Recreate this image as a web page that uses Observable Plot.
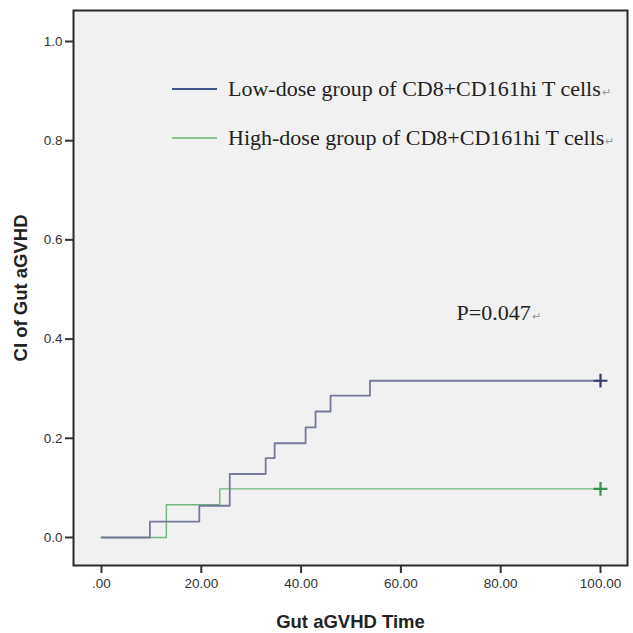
<!DOCTYPE html>
<html>
<head>
<meta charset="utf-8">
<script src="https://cdn.jsdelivr.net/npm/d3@7"></script>
<script src="https://cdn.jsdelivr.net/npm/@observablehq/plot@0.6"></script>
<style>
  html, body { margin: 0; padding: 0; background: #fff; }
</style>
</head>
<body>
<div id="chart"></div>
<script>
// ---- data ----
const groups = ["Low-dose group of CD8+CD161hi T cells", "High-dose group of CD8+CD161hi T cells"];
const lowTime = [0, 9.7, 19.6, 25.7, 32.9, 34.7, 40.9, 42.9, 45.9, 53.8, 100];
const lowCI   = [0, 0.032, 0.064, 0.128, 0.16, 0.19, 0.222, 0.254, 0.286, 0.316, 0.316];
const highTime = [0, 13, 23.7, 100];
const highCI   = [0, 0.066, 0.098, 0.098];
const censorTime = [100, 100];
const censorCI = [0.316, 0.098];
const xTicks = [0, 20, 40, 60, 80, 100];
const yTicks = [0, 0.2, 0.4, 0.6, 0.8, 1.0];
const pText = "P=0.047";

const lowData = lowTime.map((t, i) => ({t, ci: lowCI[i]}));
const highData = highTime.map((t, i) => ({t, ci: highCI[i]}));
const censor = censorTime.map((t, i) => ({t, ci: censorCI[i], g: i}));

const lineColors = ["#767a9c", "#72b87e"];
const plusColors = ["#363c6c", "#3d8f52"];
const legendColors = ["#3c5486", "#8cc28a"];

const plot = Plot.plot({
  width: 633,
  height: 633,
  marginLeft: 73,
  marginRight: 6,
  marginTop: 10,
  marginBottom: 68,
  style: {fontFamily: "Liberation Sans, Arial, sans-serif", background: "#fff", color: "#333"},
  x: {domain: [-5.61, 105.41], axis: null},
  y: {domain: [-0.0565, 1.0625], axis: null},
  marks: [
    Plot.frame({fill: "#f1f1f1", stroke: null}),
    Plot.axisX({ticks: xTicks, tickSize: 8, tickPadding: 5, fontSize: 13.5, label: null,
      tickFormat: d => d === 0 ? ".00" : d.toFixed(2), stroke: "#333", strokeWidth: 2, fill: "#333"}),
    Plot.axisY({ticks: yTicks, tickSize: 8, tickPadding: 3, fontSize: 13.5, label: null,
      tickFormat: d => d.toFixed(1), stroke: "#333", strokeWidth: 2, fill: "#333"}),
    Plot.line(highData, {x: "t", y: "ci", curve: "step-after", stroke: lineColors[1], strokeWidth: 1.4}),
    Plot.line(lowData, {x: "t", y: "ci", curve: "step-after", stroke: lineColors[0], strokeWidth: 1.8}),
    Plot.dot(censor, {x: "t", y: "ci", symbol: "plus", r: 4.5, strokeWidth: 2.2,
      stroke: d => plusColors[d.g]}),
    Plot.text([pText], {frameAnchor: "top-left", dx: 456 - 73, dy: 312 - 10, text: d => d,
      textAnchor: "start", lineAnchor: "middle",
      fontFamily: "Liberation Serif, Times New Roman, serif", fontSize: 22, fill: "#222"}),
    Plot.text(["Gut aGVHD Time"], {frameAnchor: "bottom", dy: 57, text: d => d,
      textAnchor: "middle", lineAnchor: "middle",
      fontWeight: "bold", fontSize: 18.5, fill: "#222"}),
    Plot.text(["CI of Gut aGVHD"], {frameAnchor: "left", dx: -52, rotate: -90, text: d => d,
      textAnchor: "middle", lineAnchor: "middle",
      fontWeight: "bold", fontSize: 18.5, fill: "#222"}),
    Plot.frame({stroke: "#2a2a2a", strokeWidth: 2})
  ]
});

const svg = d3.select(plot);

// legend inside plot area
const lg = svg.append("g").attr("text-anchor", "start");
groups.forEach((g, i) => {
  const y = 89 + i * 49;
  lg.append("line").attr("x1", 172).attr("x2", 217).attr("y1", y).attr("y2", y)
    .attr("stroke", legendColors[i]).attr("stroke-width", 2);
  const t = lg.append("text").attr("x", 228).attr("y", y + 7)
    .attr("text-anchor", "start")
    .attr("font-family", "Liberation Serif, Times New Roman, serif").attr("font-size", 22)
    .attr("fill", "#222").text(g);
  t.append("tspan").attr("font-size", 11).attr("fill", "#999").attr("dx", 1).text("↵");
});
// return-mark after P value
svg.selectAll("text").filter(function() { return this.textContent === pText; })
  .append("tspan").attr("font-size", 11).attr("fill", "#999").attr("dx", 1).text("↵");

document.getElementById("chart").appendChild(plot);
</script>
</body>
</html>
